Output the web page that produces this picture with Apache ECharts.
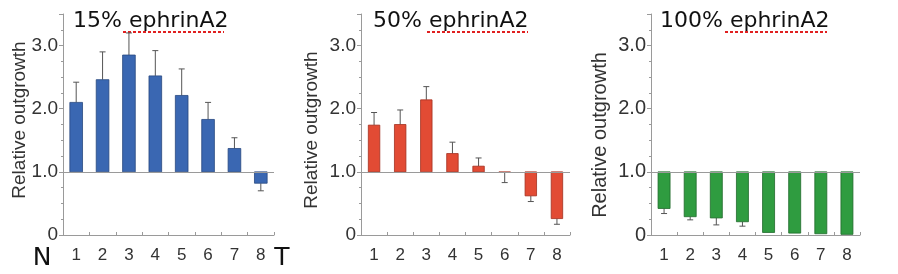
<!DOCTYPE html>
<html>
<head>
<meta charset="utf-8">
<script src="https://cdn.jsdelivr.net/npm/echarts@6/dist/echarts.min.js"></script>
<style>
html,body{margin:0;padding:0;background:#fff;}
#c{width:898px;height:274px;}
</style>
</head>
<body>
<div id="c"></div>
<script>
// ---- data ----
const categories = ['1', '2', '3', '4', '5', '6', '7', '8'];
const titles = ['15% ephrinA2', '50% ephrinA2', '100% ephrinA2'];
const yAxisName = 'Relative outgrowth';
const baseline = 1.0;
const yMin = 0, yMax = 3.5, yInterval = 1;

const values15 = [2.10, 2.46, 2.85, 2.52, 2.21, 1.83, 1.37, 0.82];
const errEnd15 = [2.42, 2.90, 3.20, 2.92, 2.63, 2.10, 1.54, 0.70];

const values50 = [1.74, 1.75, 2.14, 1.29, 1.09, 0.99, 0.62, 0.26];
const errEnd50 = [1.94, 1.98, 2.35, 1.47, 1.22, 0.83, 0.53, 0.17];

const values100 = [0.42, 0.29, 0.27, 0.21, 0.04, 0.03, 0.02, 0.01];
const errEnd100 = [0.34, 0.24, 0.16, 0.14, 0.04, 0.03, 0.02, 0.01];

// ---- styling / layout ----
const panels = [
  {values: values15, errs: errEnd15, color: '#3a67b2', border: '#27487f', left: 63, width: 211, ratio: 0.48},
  {values: values50, errs: errEnd50, color: '#e24b34', border: '#a3301f', left: 361, width: 209, ratio: 0.44},
  {values: values100, errs: errEnd100, color: '#2f9c40', border: '#1f6a2b', left: 651, width: 209, ratio: 0.46}
];
const gridTop = 14, gridBottom = 274 - 235;
const axisGray = '#9a9a9a';
const labelFont = '"Liberation Sans", Arial, sans-serif';
const titleFont = '"DejaVu Sans", sans-serif';

const chart = echarts.init(document.getElementById('c'), null, {renderer: 'canvas'});

const grid = [], xAxis = [], yAxis = [], series = [];
panels.forEach((p, k) => {
  grid.push({left: p.left, width: p.width, top: gridTop, bottom: gridBottom, containLabel: false});
  xAxis.push({
    type: 'category', gridIndex: k, data: categories, boundaryGap: true,
    axisLine: {show: true, lineStyle: {color: axisGray, width: 1}},
    axisTick: {show: true, inside: true, length: 3, lineStyle: {color: axisGray}},
    axisLabel: {color: '#333', fontFamily: labelFont, fontSize: 17, margin: 12}
  });
  yAxis.push({
    type: 'value', gridIndex: k, min: yMin, max: yMax, interval: yInterval,
    axisLine: {show: true, lineStyle: {color: axisGray, width: 1}},
    axisTick: {show: true, length: 4, lineStyle: {color: axisGray}},
    minorTick: {show: true, splitNumber: 4, length: 2, lineStyle: {color: axisGray}},
    splitLine: {show: false}, minorSplitLine: {show: false},
    axisLabel: {
      color: '#333', fontFamily: labelFont, fontSize: k === 2 ? 20 : 19, margin: 5,
      formatter: v => v === 0 ? '0' : (Math.abs(v - Math.round(v)) < 1e-9 ? v.toFixed(1) : '')
    }
  });
  // bars from baseline 1.0
  series.push({
    type: 'custom', xAxisIndex: k, yAxisIndex: k,
    data: p.values.map((v, i) => [i, v]),
    encode: {x: 0, y: 1},
    z: 3,
    renderItem: (params, api) => {
      const i = api.value(0), v = api.value(1);
      const a = api.coord([i, baseline]);
      const b = api.coord([i, v]);
      const w = api.size([1, 0])[0] * p.ratio;
      return {
        type: 'rect',
        shape: {x: a[0] - w / 2, y: Math.min(a[1], b[1]), width: w, height: Math.abs(b[1] - a[1])},
        style: {fill: p.color, stroke: p.border, lineWidth: 0.8}
      };
    },
    markLine: {
      silent: true, symbol: 'none', label: {show: false},
      lineStyle: {color: axisGray, type: 'solid', width: 1.2},
      data: [{yAxis: baseline}]
    }
  });
  // error bars
  series.push({
    type: 'custom', xAxisIndex: k, yAxisIndex: k,
    data: p.values.map((v, i) => [i, v, p.errs[i]]),
    encode: {x: 0, y: [1, 2]},
    z: 2,
    renderItem: (params, api) => {
      const i = api.value(0), v = api.value(1), e = api.value(2);
      if (Math.abs(e - v) < 0.005) return null;
      const a = api.coord([i, v]);
      const b = api.coord([i, e]);
      const cap = 3;
      const ls = {stroke: '#555', lineWidth: 1};
      return {
        type: 'group',
        children: [
          {type: 'line', shape: {x1: a[0], y1: a[1], x2: b[0], y2: b[1]}, style: ls},
          {type: 'line', shape: {x1: b[0] - cap, y1: b[1], x2: b[0] + cap, y2: b[1]}, style: ls}
        ]
      };
    }
  });
});

const titleX = [73, 373, 660];
const underline = [[123, 224], [427, 528], [725, 827]];
const nameX = [20, 312, 600];
const nameY = [120, 130, 135];
const graphic = [];
titles.forEach((t, k) => {
  graphic.push({
    type: 'text', x: titleX[k], y: 21,
    style: {text: t, font: '22px ' + titleFont, fill: '#111', textVerticalAlign: 'middle', textAlign: 'left'}
  });
  graphic.push({
    type: 'line', shape: {x1: underline[k][0], y1: 32, x2: underline[k][1], y2: 32},
    style: {stroke: '#e02020', lineWidth: 2, lineDash: [3, 2]}
  });
  graphic.push({
    type: 'text', x: nameX[k], y: nameY[k], rotation: Math.PI / 2,
    style: {text: yAxisName, font: (k === 2 ? 20 : 19) + 'px ' + labelFont, fill: '#333', textAlign: 'center', textVerticalAlign: 'middle'}
  });
});
graphic.push({type: 'text', x: 42, y: 258, style: {text: 'N', font: '25px ' + titleFont, fill: '#111', textAlign: 'center', textVerticalAlign: 'middle'}});
graphic.push({type: 'text', x: 282, y: 258, style: {text: 'T', font: '25px ' + titleFont, fill: '#111', textAlign: 'center', textVerticalAlign: 'middle'}});

chart.setOption({
  animation: false,
  backgroundColor: '#fff',
  grid, xAxis, yAxis, series, graphic
});
</script>
</body>
</html>
